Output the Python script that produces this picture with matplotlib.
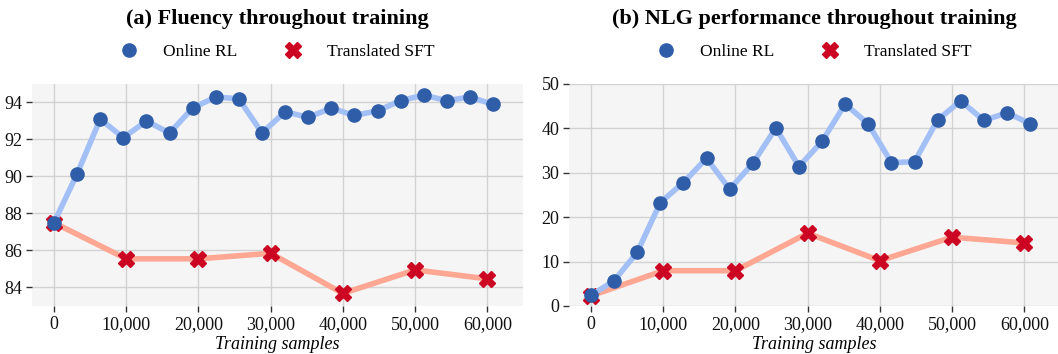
import matplotlib
matplotlib.use("Agg")
import matplotlib.pyplot as plt
import numpy as np
from matplotlib.ticker import FuncFormatter

plt.rcParams['font.family'] = ['Liberation Serif', 'DejaVu Serif']

# ---- data ----
rl_samples = [0, 3200, 6400, 9600, 12800, 16000, 19200, 22400, 25600, 28800,
              32000, 35200, 38400, 41600, 44800, 48000, 51200, 54400, 57600, 60800]
sft_samples = [0, 10000, 20000, 30000, 40000, 50000, 60000]

fluency_rl = [87.5, 90.15, 93.1, 92.1, 93.0, 92.35, 93.7, 94.3, 94.2, 92.35,
              93.5, 93.2, 93.7, 93.3, 93.55, 94.1, 94.4, 94.1, 94.3, 93.9]
fluency_sft = [87.5, 85.55, 85.55, 85.85, 83.68, 84.95, 84.47]

nlg_rl = [2.4, 5.7, 12.1, 23.3, 27.8, 33.3, 26.3, 32.1, 40.1, 31.4,
          37.1, 45.5, 41.0, 32.3, 32.5, 41.9, 46.2, 41.8, 43.5, 41.1]
nlg_sft = [2.3, 7.95, 7.95, 16.4, 10.2, 15.5, 14.2]

titles = ["(a) Fluency throughout training", "(b) NLG performance throughout training"]
series_labels = ["Online RL", "Translated SFT"]
xticks = [0, 10000, 20000, 30000, 40000, 50000, 60000]
yticks_a = [84, 86, 88, 90, 92, 94]
yticks_b = [0, 10, 20, 30, 40, 50]
xlabel = "Training samples"

RL_LINE = "#a3c0f6"
RL_MARK = "#2f5da8"
SFT_LINE = "#ffa792"
SFT_MARK = "#cc0522"

fig = plt.figure(figsize=(10.58, 3.54), dpi=100)
W, H = 1058, 354
axA = fig.add_axes([32 / W, 1 - 306 / H, 491 / W, 222 / H])
axB = fig.add_axes([569 / W, 1 - 306 / H, 491 / W, 222 / H])

panels = [(axA, fluency_rl, fluency_sft, yticks_a, (83, 95)),
          (axB, nlg_rl, nlg_sft, yticks_b, (0, 50))]

for i, (ax, rl, sft, yt, yl) in enumerate(panels):
    ax.set_facecolor("#f5f5f5")
    for s in ax.spines.values():
        s.set_visible(False)
    ax.set_axisbelow(True)
    ax.grid(True, color="#d2d2d2", linewidth=1.0)
    ax.plot(sft_samples, sft, color=SFT_LINE, linewidth=4, zorder=2)
    ax.plot(sft_samples, sft, linestyle='none', marker='X', markersize=11,
            color=SFT_MARK, markeredgecolor=SFT_MARK, zorder=3, label=series_labels[1])
    ax.plot(rl_samples, rl, color=RL_LINE, linewidth=4, zorder=4)
    ax.plot(rl_samples, rl, linestyle='none', marker='o', markersize=9.5,
            color=RL_MARK, markeredgecolor=RL_MARK, zorder=5, label=series_labels[0])
    ax.set_xlim(-3050, 64950)
    ax.set_ylim(*yl)
    ax.set_xticks(xticks)
    ax.set_yticks(yt)
    ax.xaxis.set_major_formatter(FuncFormatter(lambda v, p: f"{int(v):,}"))
    ax.tick_params(axis='both', length=4, width=1, color="#333333",
                   labelsize=13, pad=3, labelcolor="#111111")
    ax.set_xlabel(xlabel, fontsize=13, style='italic', labelpad=2.5)
    ax.text(0.5, 1.295, titles[i], transform=ax.transAxes, ha='center', va='center',
            fontsize=16, fontweight='bold')
    h, l = ax.get_legend_handles_labels()
    ax.legend(h[::-1], l[::-1], loc='center', bbox_to_anchor=(0.5, 1.145), ncol=2,
              frameon=False, fontsize=12.5, handletextpad=1.45, columnspacing=2.7,
              handlelength=1.0)

fig.savefig("out.png", dpi=100)
